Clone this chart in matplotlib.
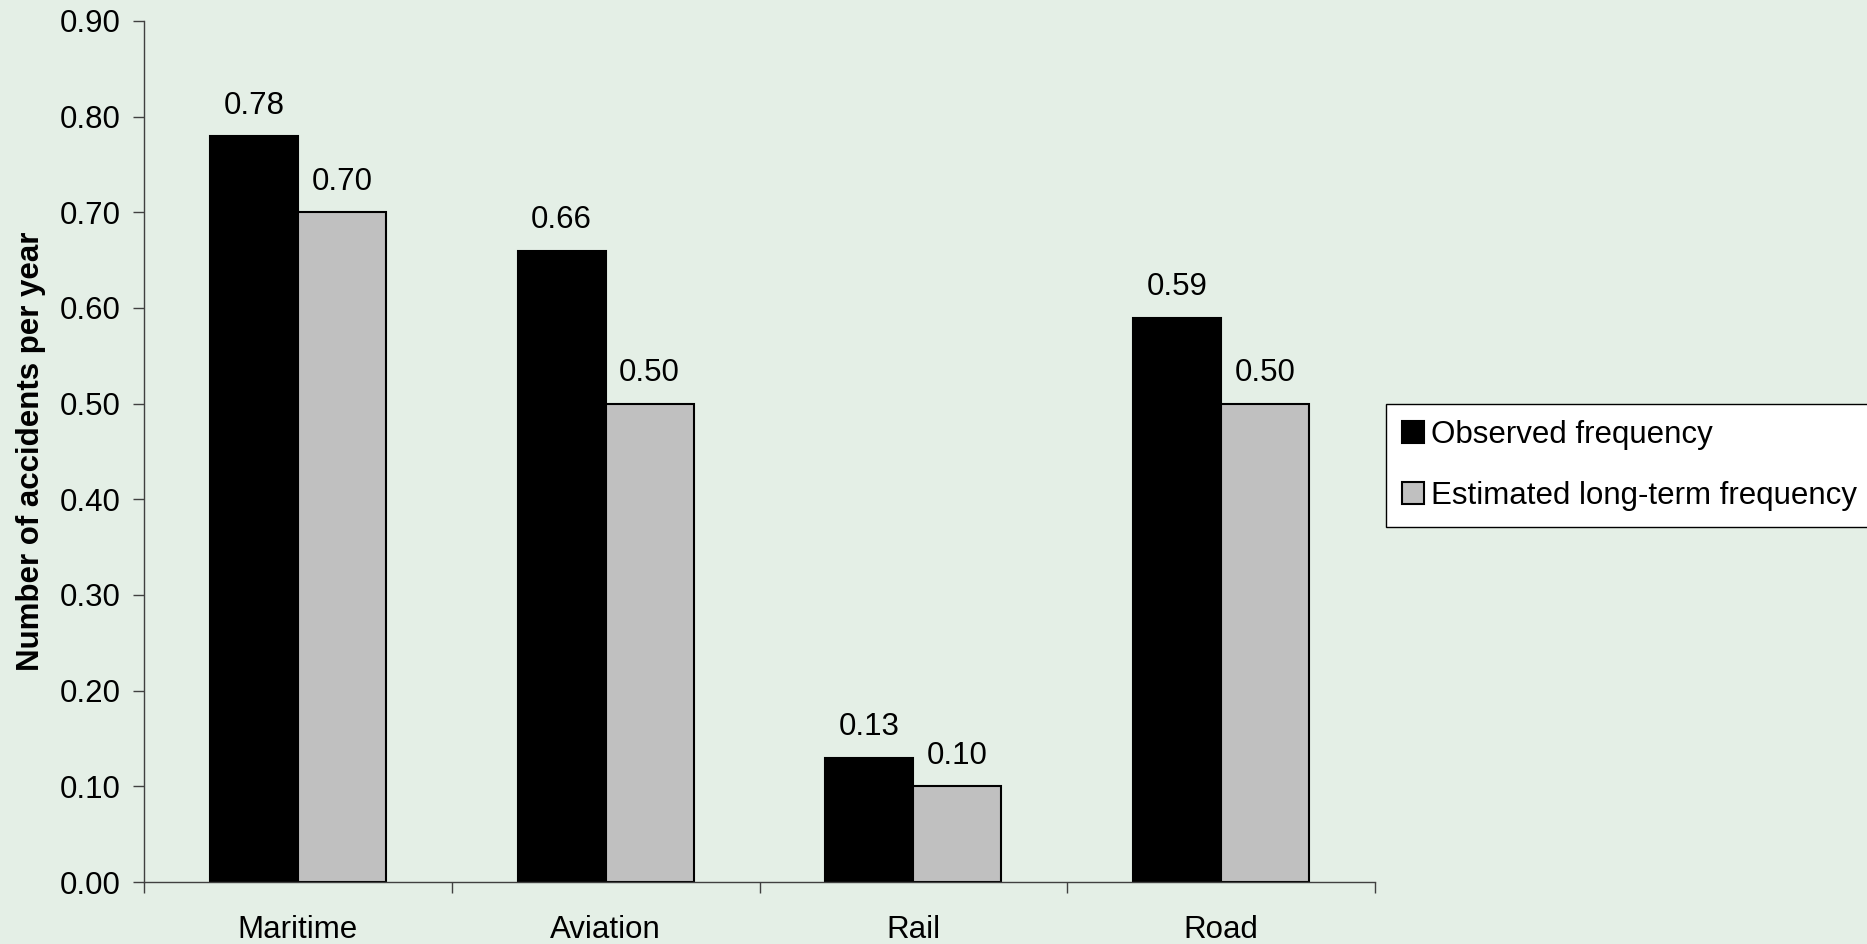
import numpy as np
import matplotlib.pyplot as plt

categories = ['Maritime', 'Aviation', 'Rail', 'Road']
observed = [0.78, 0.66, 0.13, 0.59]
estimated = [0.70, 0.50, 0.10, 0.50]
yticks = np.arange(0, 0.91, 0.1)

bg = '#e4efe6'
fs = 22.5
plt.rcParams['font.family'] = ['Liberation Sans', 'DejaVu Sans']

fig = plt.figure(figsize=(18.67, 9.44), dpi=100, facecolor=bg)
ax = fig.add_axes([144 / 1867, 1 - 882 / 944, (1375 - 144) / 1867, (882 - 21) / 944])
ax.set_facecolor(bg)

x = np.arange(len(categories))
w = 0.286
b1 = ax.bar(x - w / 2, observed, w, color='black', edgecolor='black', linewidth=1.5,
            label='Observed frequency')
b2 = ax.bar(x + w / 2, estimated, w, color='#c0c0c0', edgecolor='black', linewidth=1.5,
            label='Estimated long-term frequency')

for bars, vals in ((b1, observed), (b2, estimated)):
    for r, v in zip(bars, vals):
        ax.annotate('%.2f' % v, (r.get_x() + r.get_width() / 2, v), xytext=(0, 11),
                    textcoords='offset points', ha='center', va='bottom', fontsize=fs)

ax.set_xlim(-0.5, len(categories) - 0.5)
ax.set_ylim(0, 0.9)
ax.set_yticks(yticks)
ax.set_yticklabels(['%.2f' % t for t in yticks], fontsize=fs)
ax.set_xticks(np.arange(-0.5, len(categories)), minor=False)
ax.set_xticklabels([])
ax.set_xticks(x, minor=True)
ax.set_xticklabels(categories, minor=True, fontsize=fs)
ax.tick_params(axis='x', which='minor', length=0, pad=24)
ax.tick_params(axis='x', which='major', length=8, width=1, direction='out', colors='#404040')
ax.tick_params(axis='y', length=8, width=1, colors='#404040', labelcolor='black', pad=9)
ax.tick_params(axis='x', which='minor', labelcolor='black')

for s in ('top', 'right'):
    ax.spines[s].set_visible(False)
for s in ('left', 'bottom'):
    ax.spines[s].set_color('#404040')
    ax.spines[s].set_linewidth(1)

ax.set_ylabel('Number of accidents per year', fontsize=22.5, fontweight='bold', labelpad=10)

leg = fig.legend(loc='upper left', bbox_to_anchor=(1386 / 1867, 1 - 404 / 944),
                 fontsize=fs, frameon=True, fancybox=False, edgecolor='black',
                 framealpha=1, handlelength=0.7, handleheight=0.7, handletextpad=0.25,
                 labelspacing=1.0, borderpad=0.5, borderaxespad=0)
leg.get_frame().set_linewidth(1)

fig.savefig('out.png', dpi=100, facecolor=bg)
